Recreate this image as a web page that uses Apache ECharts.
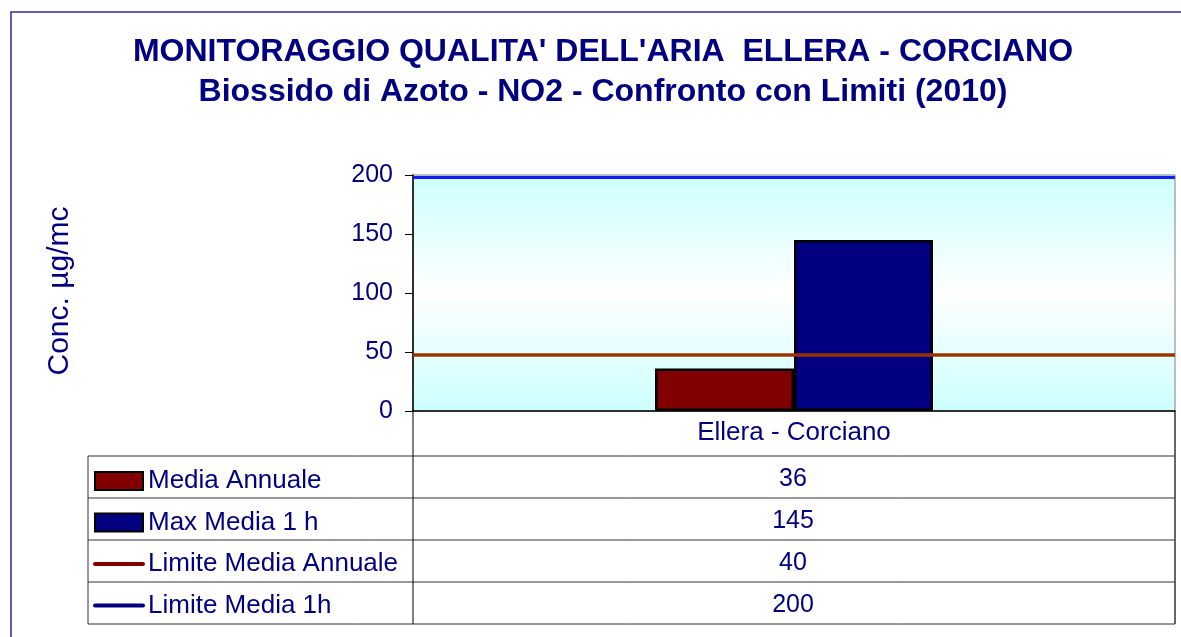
<!DOCTYPE html>
<html>
<head>
<meta charset="utf-8">
<script src="https://cdn.jsdelivr.net/npm/echarts@6/dist/echarts.min.js"></script>
<style>
  html, body { margin: 0; padding: 0; background: #fff; }
  #chart { width: 1181px; height: 637px; }
</style>
</head>
<body>
<div id="chart"></div>
<script>
// dati
var stations = ['Ellera - Corciano'];
var mediaAnnuale = [36];
var maxMedia1h = [145];
var limitNames = ['Limite Media Annuale', 'Limite Media 1h'];
var limitValues = [40, 200];      // valori stampati in tabella
var limitLines = [47.5, 198];     // dove le linee stanno nel grafico
var yTicks = { min: 0, max: 200, interval: 50 };

var navy = '#000080';
var font = 'Liberation Sans, Arial, sans-serif';

// tabella dati sotto l'asse
var tableLeft = 88, tableMid = 413, tableRight = 1175;
var rowLines = [456, 498, 540, 582, 624];
var tableRows = [mediaAnnuale[0], maxMedia1h[0], limitValues[0], limitValues[1]];

var graphics = [];
// cornice esterna
graphics.push({
    type: 'rect', shape: { x: 11, y: 12, width: 1300, height: 800 },
    style: { fill: 'none', stroke: '#2a2aa0', lineWidth: 1.5 }, silent: true
});
// titolo
graphics.push({
    type: 'text', x: 603, y: 52,
    style: { text: "MONITORAGGIO QUALITA' DELL'ARIA  ELLERA - CORCIANO", font: 'bold 32px ' + font, fill: navy, align: 'center', verticalAlign: 'middle' }
});
graphics.push({
    type: 'text', x: 603, y: 92,
    style: { text: 'Biossido di Azoto - NO2 - Confronto con Limiti (2010)', font: 'bold 32px ' + font, fill: navy, align: 'center', verticalAlign: 'middle' }
});
// nome asse y
graphics.push({
    type: 'text', x: 60, y: 291, rotation: Math.PI / 2,
    style: { text: 'Conc. µg/mc', font: '30px ' + font, fill: navy, align: 'center', verticalAlign: 'middle' }
});
// righe tabella
rowLines.forEach(function (y) {
    graphics.push({ type: 'line', shape: { x1: tableLeft, y1: y, x2: tableRight, y2: y }, style: { stroke: '#333', lineWidth: 1 } });
});
graphics.push({ type: 'line', shape: { x1: tableLeft, y1: rowLines[0], x2: tableLeft, y2: rowLines[4] }, style: { stroke: '#333', lineWidth: 1 } });
graphics.push({ type: 'line', shape: { x1: tableMid, y1: 411, x2: tableMid, y2: rowLines[4] }, style: { stroke: '#000', lineWidth: 1 } });
graphics.push({ type: 'line', shape: { x1: tableRight, y1: 411, x2: tableRight, y2: rowLines[4] }, style: { stroke: '#333', lineWidth: 1.5 } });
// valori tabella
tableRows.forEach(function (v, i) {
    graphics.push({
        type: 'text', x: 793, y: (rowLines[i] + rowLines[i + 1]) / 2 + 2,
        style: { text: String(v), font: '25px ' + font, fill: navy, align: 'center', verticalAlign: 'middle' }
    });
});

var chart = echarts.init(document.getElementById('chart'));

var option = {
    animation: false,
    textStyle: { fontFamily: font },
    grid: {
        left: 413, right: 6, top: 175, bottom: 226,
        show: true,
        borderColor: '#808080',
        borderWidth: 1,
        backgroundColor: new echarts.graphic.LinearGradient(0, 0, 0, 1, [
            { offset: 0, color: '#ccffff' },
            { offset: 0.5, color: '#ffffff' },
            { offset: 1, color: '#ccffff' }
        ])
    },
    legend: {
        orient: 'vertical',
        left: 88,
        top: 461,
        itemWidth: 48,
        itemHeight: 18,
        itemGap: 11.5,
        textStyle: { fontSize: 26, color: navy, lineHeight: 30 },
        selectedMode: false,
        data: [
            { name: 'Media Annuale', icon: 'rect', itemStyle: { borderColor: '#000', borderWidth: 2 } },
            { name: 'Max Media 1 h', icon: 'rect', itemStyle: { borderColor: '#000', borderWidth: 2 } },
            { name: limitNames[0], itemStyle: { opacity: 0 }, lineStyle: { width: 4, cap: 'round' } },
            { name: limitNames[1], itemStyle: { opacity: 0 }, lineStyle: { width: 4, cap: 'round' } }
        ]
    },
    xAxis: {
        type: 'category',
        data: stations,
        axisLine: { lineStyle: { color: '#000', width: 1.5 } },
        axisTick: { show: false },
        axisLabel: { fontSize: 26, color: navy, margin: 9 }
    },
    yAxis: {
        type: 'value',
        min: yTicks.min,
        max: yTicks.max,
        interval: yTicks.interval,
        axisLine: { show: true, lineStyle: { color: '#000', width: 1.5 } },
        axisTick: { show: true, length: 8, lineStyle: { color: '#000' } },
        axisLabel: { fontSize: 25, color: navy, margin: 20 },
        splitLine: { show: false }
    },
    series: [
        {
            name: 'Media Annuale',
            type: 'bar',
            data: mediaAnnuale,
            barWidth: 139,
            barGap: '0%',
            itemStyle: { color: '#800000', borderColor: '#000', borderWidth: 2.5 }
        },
        {
            name: 'Max Media 1 h',
            type: 'bar',
            data: maxMedia1h,
            barWidth: 139,
            barGap: '0%',
            itemStyle: { color: '#000080', borderColor: '#000', borderWidth: 2.5 }
        },
        {
            name: limitNames[0],
            type: 'line',
            data: [],
            symbol: 'none',
            color: '#800000',
            lineStyle: { color: '#800000', width: 4 },
            markLine: {
                silent: true,
                symbol: ['none', 'none'],
                label: { show: false },
                lineStyle: { color: '#993300', width: 3.5, type: 'solid' },
                data: [{ yAxis: limitLines[0] }]
            }
        },
        {
            name: limitNames[1],
            type: 'line',
            data: [],
            symbol: 'none',
            color: '#000080',
            lineStyle: { color: '#000080', width: 4 },
            markLine: {
                silent: true,
                symbol: ['none', 'none'],
                label: { show: false },
                lineStyle: { color: '#1a1aff', width: 3, type: 'solid' },
                data: [{ yAxis: limitLines[1] }]
            }
        }
    ],
    graphic: graphics
};

chart.setOption(option);
</script>
</body>
</html>
